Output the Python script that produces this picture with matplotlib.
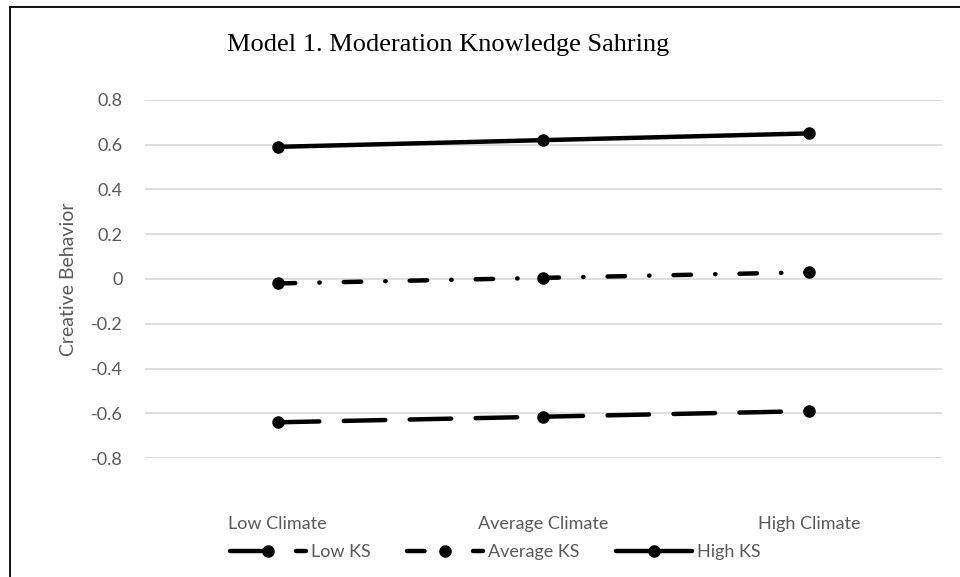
import matplotlib
matplotlib.use('Agg')
import matplotlib.pyplot as plt
from matplotlib.lines import Line2D

# data
categories = ['Low Climate', 'Average Climate', 'High Climate']
low_ks = [-0.64, -0.615, -0.59]
avg_ks = [-0.02, 0.005, 0.03]
high_ks = [0.59, 0.62, 0.65]
yticks = [-0.8, -0.6, -0.4, -0.2, 0, 0.2, 0.4, 0.6, 0.8]
ytick_labels = ['-0.8', '-0.6', '-0.4', '-0.2', '0', '0.2', '0.4', '0.6', '0.8']

plt.rcParams['lines.scale_dashes'] = False
text_grey = '#595959'
sans = ['Lato', 'DejaVu Sans']

fig = plt.figure(figsize=(9.6, 5.77), dpi=100)
ax = fig.add_axes([0.151, 0.206, 0.830, 0.621])

for s in ax.spines.values():
    s.set_visible(False)

ax.set_yticks(yticks)
ax.set_yticklabels(ytick_labels)
ax.set_ylim(-0.8, 0.8)
ax.set_xlim(-0.5, 2.5)
ax.set_xticks(range(len(categories)))
ax.set_xticklabels(categories)
ax.grid(axis='y', color='#d9d9d9', lw=1.2, zorder=0)
ax.tick_params(axis='both', length=0, colors=text_grey, labelsize=13)
ax.tick_params(axis='y', pad=16)
ax.tick_params(axis='x', pad=42)
for lab in ax.get_xticklabels() + ax.get_yticklabels():
    lab.set_family(sans)

xs = list(range(len(categories)))
style = dict(color='black', lw=3.2, marker='o', ms=8,
             solid_capstyle='round', dash_capstyle='round', zorder=3)
ax.plot(xs, low_ks, dashes=(29.9, 17.6), label='Low KS', **style)
ax.plot(xs, avg_ks, dashes=(12.6, 17.3, 0.3, 17.3), label='Average KS', **style)
ax.plot(xs, high_ks, label='High KS', **style)

ax.set_ylabel('Creative Behavior', color=text_grey, fontsize=14,
              family=sans, labelpad=10)

leg = ax.legend(loc='center', bbox_to_anchor=(0.44, -0.263), ncol=3,
                frameon=False, handlelength=4.2, handletextpad=0.3,
                columnspacing=2.0, prop={'family': sans, 'size': 13})
for t in leg.get_texts():
    t.set_color(text_grey)

fig.text(0.467, 0.922, 'Model 1. Moderation Knowledge Sahring',
         ha='center', va='center', fontsize=19, family='Liberation Serif')

# chart frame (only top and left edges are visible)
fig.add_artist(Line2D([10 / 960, 1], [1 - 7 / 577, 1 - 7 / 577],
                      transform=fig.transFigure, color='black', lw=1.3))
fig.add_artist(Line2D([10 / 960, 10 / 960], [0, 1 - 7 / 577],
                      transform=fig.transFigure, color='black', lw=1.3))

fig.savefig('out.png', dpi=100)
